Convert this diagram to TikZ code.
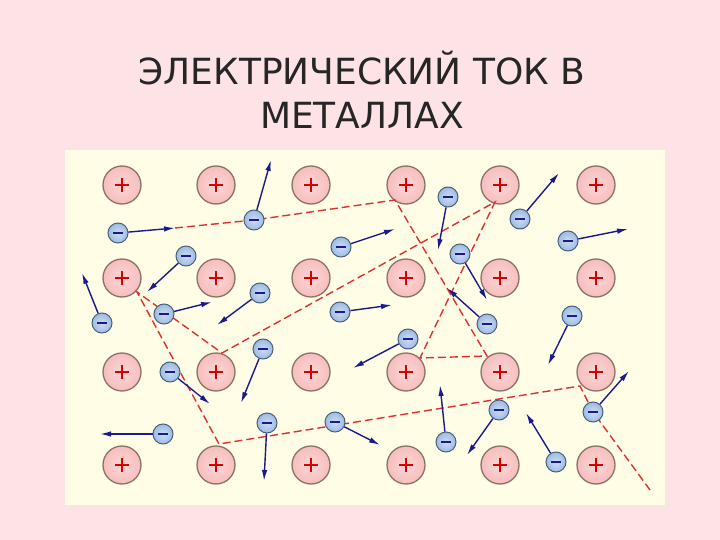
\documentclass[tikz,border=0pt]{standalone}
\usepackage{fontspec}
\setmainfont{DejaVu Sans}
\usetikzlibrary{arrows.meta}
\definecolor{bgpink}{HTML}{FDE2E6}
\definecolor{panel}{HTML}{FFFDE6}
\definecolor{ionfill}{HTML}{F7BDBD}
\definecolor{ionedge}{HTML}{8A7468}
\definecolor{elfill}{HTML}{9DBBE4}
\definecolor{eledge}{HTML}{4A6278}
\definecolor{navy}{HTML}{1A1A8C}
\definecolor{trail}{HTML}{E03030}
\tikzset{
 ion/.style={circle,minimum size=38pt,inner sep=0pt,draw=ionedge,line width=1.3pt,
   inner color=ionfill!60!white,outer color=ionfill,
   path picture={\draw[red!85!black,line width=1.4pt](path picture bounding box.center)++(-7pt,0)--++(14pt,0);
   \draw[red!85!black,line width=1.4pt](path picture bounding box.center)++(0,-7pt)--++(0,14pt);}},
 elec/.style={circle,minimum size=20pt,inner sep=0pt,draw=eledge,line width=1pt,
   inner color=elfill!50!white,outer color=elfill,
   path picture={\draw[navy,line width=2pt](path picture bounding box.center)++(-5pt,0)--++(10pt,0);}},
 vel/.style={navy,line width=1.4pt,-{Latex[length=11pt,width=5.5pt]}},
 trailline/.style={trail,dash pattern=on 8pt off 4pt,line width=1.4pt}
}
\begin{document}
\begin{tikzpicture}[x=1pt,y=-1pt]
\fill[bgpink] (0,0) rectangle (720,540);
\useasboundingbox (0,0) rectangle (720,540);
\fill[panel] (65,150) rectangle (665,505);
\node[font=\fontsize{36}{44}\selectfont,text=black!85,align=center] (title) at (362,90) {ЭЛЕКТРИЧЕСКИЙ ТОК В\\МЕТАЛЛАХ};
% ions
\foreach \r/\y in {1/185,2/278,3/372,4/465}
 \foreach \c/\x in {1/122,2/216,3/311,4/406,5/500,6/596}
  \node[ion] (i\r\c) at (\x,\y) {};
% trail coordinates
\coordinate (p1) at (175,228);
\coordinate (p2) at (395,200);
\coordinate (p3) at (487,356);
\coordinate (p4) at (420,358);
\coordinate (p5) at (495,202);
\coordinate (p6) at (222,353);
\coordinate (p7) at (137,292);
\coordinate (p8) at (219,444);
\coordinate (p9) at (580,386);
\coordinate (p10) at (650,490);
% electrons
\foreach \n/\ex/\ey/\tx/\ty in {
 1/118/233/175/228, 2/254/220/271/160, 3/186/256/147/292, 4/341/247/395/229,
 5/448/197/438/250, 6/520/219/559/173, 7/568/241/628/229, 8/460/254/487/300,
 9/102/323/82/273, 10/164/314/212/302, 11/260/293/217/325, 12/340/312/392/305,
 13/487/324/447/288, 14/572/316/548/365, 15/408/339/353/368, 16/263/349/241/403,
 17/170/372/210/404, 18/163/434/100/434, 19/267/423/264/481, 20/335/422/380/445,
 21/446/442/440/385, 22/499/410/467/455, 23/593/412/629/371, 24/556/462/526/413}
 {\coordinate (t\n) at (\tx,\ty);}
\draw[trailline] (p1)--(254,220)--(p2)--(p3)--(p4)--(p5)--(p6)--(p7)--(p8)--(p9)--(593,412)--(p10);
\foreach \n/\ex/\ey in {
 1/118/233, 2/254/220, 3/186/256, 4/341/247,
 5/448/197, 6/520/219, 7/568/241, 8/460/254,
 9/102/323, 10/164/314, 11/260/293, 12/340/312,
 13/487/324, 14/572/316, 15/408/339, 16/263/349,
 17/170/372, 18/163/434, 19/267/423, 20/335/422,
 21/446/442, 22/499/410, 23/593/412, 24/556/462}
 {\node[elec] (e\n) at (\ex,\ey) {};
  \draw[vel] (e\n)--(t\n);}
\end{tikzpicture}
\end{document}
